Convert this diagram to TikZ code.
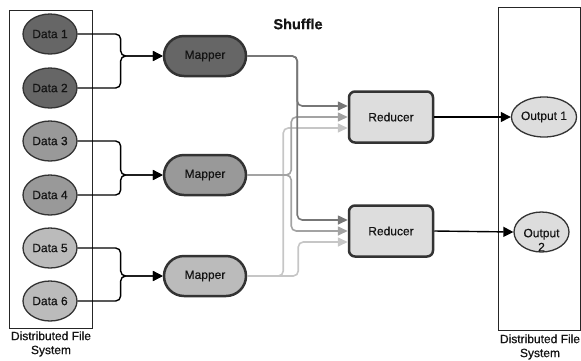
\documentclass[tikz,border=0pt]{standalone}
\usepackage{fontspec}
\setmainfont{Liberation Sans}[RawFeature={embolden=0.6}]
\usetikzlibrary{shapes.geometric,arrows.meta}
\definecolor{dkfill}{HTML}{666666}
\definecolor{mdfill}{HTML}{999999}
\definecolor{ltfill}{HTML}{BBBBBB}
\definecolor{pale}{HTML}{DDDDDD}
\definecolor{edge}{HTML}{333333}
\definecolor{lndark}{HTML}{777777}
\definecolor{lnmid}{HTML}{A3A3A3}
\definecolor{lnlight}{HTML}{C6C6C6}
\definecolor{txt}{HTML}{141414}
\begin{document}
\begin{tikzpicture}[x=1pt,y=-1pt,
 every node/.style={font=\fontsize{12}{14}\selectfont, text=txt},
 datanode/.style={ellipse, draw=edge, line width=1.3pt, minimum width=54pt, minimum height=40pt, inner sep=0pt},
 mapnode/.style={rectangle, rounded corners=20pt, draw=edge, line width=2.5pt, minimum width=82pt, minimum height=40pt},
 rednode/.style={rectangle, rounded corners=6pt, draw=edge, line width=2.5pt, minimum width=84pt, minimum height=51pt, fill=pale},
 outnode/.style={ellipse, draw=edge, line width=1.3pt, fill=pale, inner sep=0pt, minimum height=40pt},
 feed/.style={line width=1.4pt, rounded corners=5pt, -{Triangle[length=10pt,width=10pt]}},
 shuf/.style={line width=1.6pt, rounded corners=5pt, -{Triangle[length=10pt,width=9pt]}},
 fsbox/.style={draw=black!85, line width=0.9pt, inner sep=0pt}
]
\useasboundingbox (0,0) rectangle (581,360);
% file system boxes
\node[fsbox, minimum width=83pt, minimum height=318pt] (lbox) at (50.5,169) {};
\node[fsbox, minimum width=82pt, minimum height=323pt] (rbox) at (539,168.5) {};
\node[align=center] (lfs) at (51,344) {Distributed File\\System};
\node[align=center] (rfs) at (540,347) {Distributed File\\System};
% data
\node[datanode, fill=dkfill] (d1) at (50,34) {Data 1};
\node[datanode, fill=dkfill] (d2) at (50,88) {Data 2};
\node[datanode, fill=mdfill] (d3) at (50,141) {Data 3};
\node[datanode, fill=mdfill] (d4) at (50,195) {Data 4};
\node[datanode, fill=ltfill] (d5) at (50,248) {Data 5};
\node[datanode, fill=ltfill] (d6) at (50,301) {Data 6};
% mappers
\node[mapnode, fill=dkfill] (m1) at (205,56) {Mapper};
\node[mapnode, fill=mdfill] (m2) at (205,175) {Mapper};
\node[mapnode, fill=ltfill] (m3) at (205,276) {Mapper};
% reducers
\node[rednode] (r1) at (391,117) {Reducer};
\node[rednode] (r2) at (391,231) {Reducer};
% outputs
\node[outnode, minimum width=58pt] (o1) at (544,117) {Output 1};
\node[outnode, minimum width=55pt] (o2) at (541.5,232) {};
\node[align=center] (o2t) at (541.5,240) {Output\\2};
% title
\node[font=\bfseries\fontsize{14.5}{16}\selectfont] (shuffle) at (298,24) {Shuffle};
% data -> mappers
\draw[feed] (d1.east) -- ++(43,0) |- (m1.west);
\draw[feed] (d2.east) -- ++(43,0) |- (m1.west);
\draw[feed] (d3.east) -- ++(43,0) |- (m2.west);
\draw[feed] (d4.east) -- ++(43,0) |- (m2.west);
\draw[feed] (d5.east) -- ++(43,0) |- (m3.west);
\draw[feed] (d6.east) -- ++(43,0) |- (m3.west);
% shuffle
\draw[shuf, lnlight] (m3.east) -- ++(36,0) |- ([yshift=-11pt]r1.west);
\draw[shuf, lnlight] (m3.east) -- ++(51,0) |- ([yshift=-11pt]r2.west);
\draw[shuf, lnmid] (m2.east) -- ++(44,0) |- (r1.west);
\draw[shuf, lnmid] (m2.east) -- ++(44,0) |- (r2.west);
\draw[shuf, lndark] (m1.east) -- ++(50,0) |- ([yshift=11pt]r1.west);
\draw[shuf, lndark] (m1.east) -- ++(50,0) |- ([yshift=11pt]r2.west);
% reducers -> outputs
\draw[feed] (r1.east) -- (o1.west);
\draw[feed] (r2.east) -- (o2.west);
\end{tikzpicture}
\end{document}
